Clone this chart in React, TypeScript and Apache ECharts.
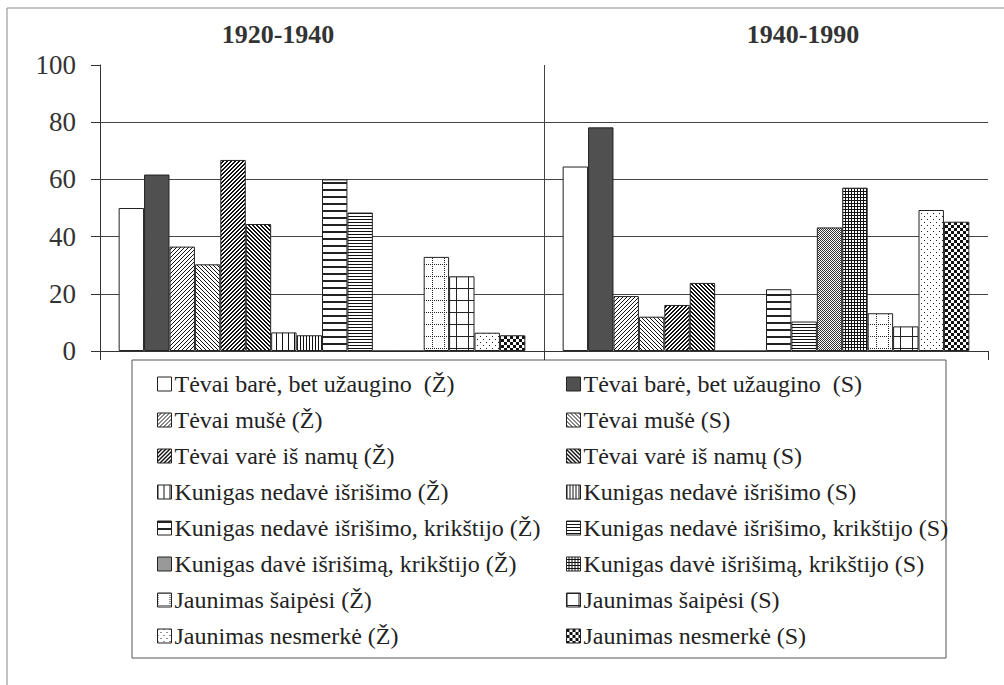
import React, { useEffect, useRef } from 'react';
import * as echarts from 'echarts';

// ---- Data ----
const periods = ['1920-1940', '1940-1990'];
const yTickValues = [0, 20, 40, 60, 80, 100];

const tevaiBareZ = [50, 64.5];
const tevaiBareS = [61.7, 78.2];
const tevaiMuseZ = [36.5, 19.2];
const tevaiMuseS = [30.3, 12];
const tevaiVareZ = [66.8, 16.1];
const tevaiVareS = [44.4, 23.8];
const kunigasNedaveZ = [6.5, 0];
const kunigasNedaveS = [5.5, 0];
const kunigasNedaveKrikstijoZ = [60, 21.6];
const kunigasNedaveKrikstijoS = [48.4, 10.3];
const kunigasDaveZ = [0, 43.2];
const kunigasDaveS = [0, 57.1];
const jaunimasSaipesiZ = [32.9, 13.2];
const jaunimasSaipesiS = [26.1, 8.6];
const jaunimasNesmerkeZ = [6.4, 49.3];
const jaunimasNesmerkeS = [5.5, 45.2];

const namesZ = [
  'Tėvai barė, bet užaugino  (Ž)',
  'Tėvai mušė (Ž)',
  'Tėvai varė iš namų (Ž)',
  'Kunigas nedavė išrišimo (Ž)',
  'Kunigas nedavė išrišimo, krikštijo (Ž)',
  'Kunigas davė išrišimą, krikštijo (Ž)',
  'Jaunimas šaipėsi (Ž)',
  'Jaunimas nesmerkė (Ž)',
];
const namesS = [
  'Tėvai barė, bet užaugino  (S)',
  'Tėvai mušė (S)',
  'Tėvai varė iš namų (S)',
  'Kunigas nedavė išrišimo (S)',
  'Kunigas nedavė išrišimo, krikštijo (S)',
  'Kunigas davė išrišimą, krikštijo (S)',
  'Jaunimas šaipėsi (S)',
  'Jaunimas nesmerkė (S)',
];

const valuesZ = [tevaiBareZ, tevaiMuseZ, tevaiVareZ, kunigasNedaveZ, kunigasNedaveKrikstijoZ, kunigasDaveZ, jaunimasSaipesiZ, jaunimasNesmerkeZ];
const valuesS = [tevaiBareS, tevaiMuseS, tevaiVareS, kunigasNedaveS, kunigasNedaveKrikstijoS, kunigasDaveS, jaunimasSaipesiS, jaunimasNesmerkeS];

const FONT = 'Liberation Serif';

// ---- pattern helpers ----
type Drawer = (ctx: CanvasRenderingContext2D, w: number, h: number) => void;
function tile(w: number, h: number, bg: string, fg: string, draw: Drawer) {
  const c = document.createElement('canvas');
  c.width = w;
  c.height = h;
  const ctx = c.getContext('2d') as CanvasRenderingContext2D;
  ctx.fillStyle = bg;
  ctx.fillRect(0, 0, w, h);
  ctx.fillStyle = fg;
  draw(ctx, w, h);
  return { image: c, repeat: 'repeat', imageWidth: w, imageHeight: h } as any;
}
function diag(dir: '/' | '\\', n: number, t: number, fg = '#111') {
  return tile(n, n, '#fff', fg, (ctx) => {
    for (let i = 0; i < n; i++) {
      for (let k = 0; k < t; k++) {
        const y = dir === '/' ? (n - 1 - i + k) % n : (i + k) % n;
        ctx.fillRect(i, y, 1, 1);
      }
    }
  });
}
function vlines(p: number, t: number, fg = '#111') {
  return tile(p, 4, '#fff', fg, (ctx, w, h) => ctx.fillRect(0, 0, t, h));
}
function hlines(p: number, t: number, fg = '#111') {
  return tile(4, p, '#fff', fg, (ctx, w) => ctx.fillRect(0, 0, w, t));
}

function buildPatterns() {
  const pZ = [
    '#ffffff',
    diag('/', 4, 1),
    diag('/', 4, 2),
    vlines(6, 1),
    hlines(7, 2, '#222'),
    tile(2, 2, '#fff', '#333', (ctx) => { ctx.fillRect(0, 0, 1, 1); ctx.fillRect(1, 1, 1, 1); }),
    tile(12, 12, '#fff', '#222', (ctx) => {
      for (let i = 0; i < 12; i += 2) { ctx.fillRect(i, 0, 1, 1); ctx.fillRect(0, i, 1, 1); }
    }),
    tile(6, 6, '#fff', '#222', (ctx) => { ctx.fillRect(0, 0, 1, 1); ctx.fillRect(3, 3, 1, 1); }),
  ];
  const pS = [
    '#505050',
    diag('\\', 4, 1),
    diag('\\', 4, 2),
    vlines(3, 1),
    hlines(3, 1),
    tile(3, 3, '#111', '#fff', (ctx) => { ctx.fillRect(0, 0, 2, 2); }),
    tile(12, 12, '#fff', '#222', (ctx) => { ctx.fillRect(0, 0, 12, 1); ctx.fillRect(0, 0, 1, 12); }),
    tile(6, 6, '#fff', '#111', (ctx) => { ctx.fillRect(0, 0, 3, 3); ctx.fillRect(3, 3, 3, 3); }),
  ];
  return { pZ, pS };
}

export default function App() {
  const ref = useRef<HTMLDivElement>(null);
  useEffect(() => {
    if (!ref.current) return;
    const chart = echarts.init(ref.current, null, { renderer: 'svg' });
    const { pZ, pS } = buildPatterns();

    const series: any[] = [];
    for (let i = 0; i < 8; i++) {
      series.push({
        name: namesZ[i],
        type: 'bar',
        data: valuesZ[i],
        barGap: '0%',
        barCategoryGap: '8.4%',
        itemStyle: { color: pZ[i], borderColor: '#222', borderWidth: 1 },
      });
      series.push({
        name: namesS[i],
        type: 'bar',
        data: valuesS[i],
        barGap: '0%',
        barCategoryGap: '8.4%',
        itemStyle: { color: pS[i], borderColor: '#222', borderWidth: 1 },
      });
    }

    const legendCommon = {
      orient: 'vertical',
      top: 367,
      itemGap: 12,
      itemWidth: 14,
      itemHeight: 14,
      icon: 'rect',
      selectedMode: false,
      itemStyle: { borderColor: '#222', borderWidth: 1 },
      textStyle: { fontFamily: FONT, fontSize: 24, lineHeight: 24, color: '#222', padding: [0, 0, 0, -2] },
    };

    chart.setOption({
      animation: false,
      backgroundColor: '#ffffff',
      textStyle: { fontFamily: FONT },
      grid: { left: 100, right: 16, top: 65, bottom: 334, containLabel: false },
      xAxis: {
        type: 'category',
        data: periods,
        boundaryGap: true,
        axisLine: { show: true, lineStyle: { color: '#333', width: 1 } },
        axisTick: { show: true, interval: 0, length: 9, lineStyle: { color: '#333' } },
        axisLabel: { show: false },
        splitLine: { show: true, interval: 0, lineStyle: { color: ['rgba(0,0,0,0)', '#444', 'rgba(0,0,0,0)'], width: 1 } },
      },
      yAxis: {
        type: 'value',
        min: yTickValues[0],
        max: yTickValues[yTickValues.length - 1],
        interval: 20,
        axisLine: { show: true, lineStyle: { color: '#333', width: 1 } },
        axisTick: { show: true, length: 9, lineStyle: { color: '#333' } },
        axisLabel: { fontFamily: FONT, fontSize: 27, color: '#333', margin: 24 },
        splitLine: {
          show: true,
          lineStyle: { color: ['#444', '#444', '#444', '#444', '#444', 'rgba(0,0,0,0)'], width: 1 },
        },
      },
      legend: [
        { ...legendCommon, left: 152, data: namesZ },
        { ...legendCommon, left: 561, data: namesS },
      ],
      graphic: [
        { type: 'line', shape: { x1: 7, y1: 8, x2: 1004, y2: 8 }, style: { stroke: '#888', lineWidth: 1 } },
        { type: 'line', shape: { x1: 7, y1: 8, x2: 7, y2: 685 }, style: { stroke: '#888', lineWidth: 1 } },
        { type: 'rect', shape: { x: 132, y: 360, width: 814, height: 298 }, style: { fill: 'rgba(0,0,0,0)', stroke: '#555', lineWidth: 1 }, z: -1 },
        {
          type: 'text', x: 278, y: 34,
          style: { text: periods[0], fontFamily: FONT, fontSize: 26, fontWeight: 'bold', fill: '#333', align: 'center', verticalAlign: 'middle' },
        },
        {
          type: 'text', x: 803, y: 34,
          style: { text: periods[1], fontFamily: FONT, fontSize: 26, fontWeight: 'bold', fill: '#333', align: 'center', verticalAlign: 'middle' },
        },
      ],
      series,
    });
    return () => chart.dispose();
  }, []);
  return <div ref={ref} style={{ position: 'absolute', left: 0, top: 0, width: 1004, height: 685 }} />;
}
